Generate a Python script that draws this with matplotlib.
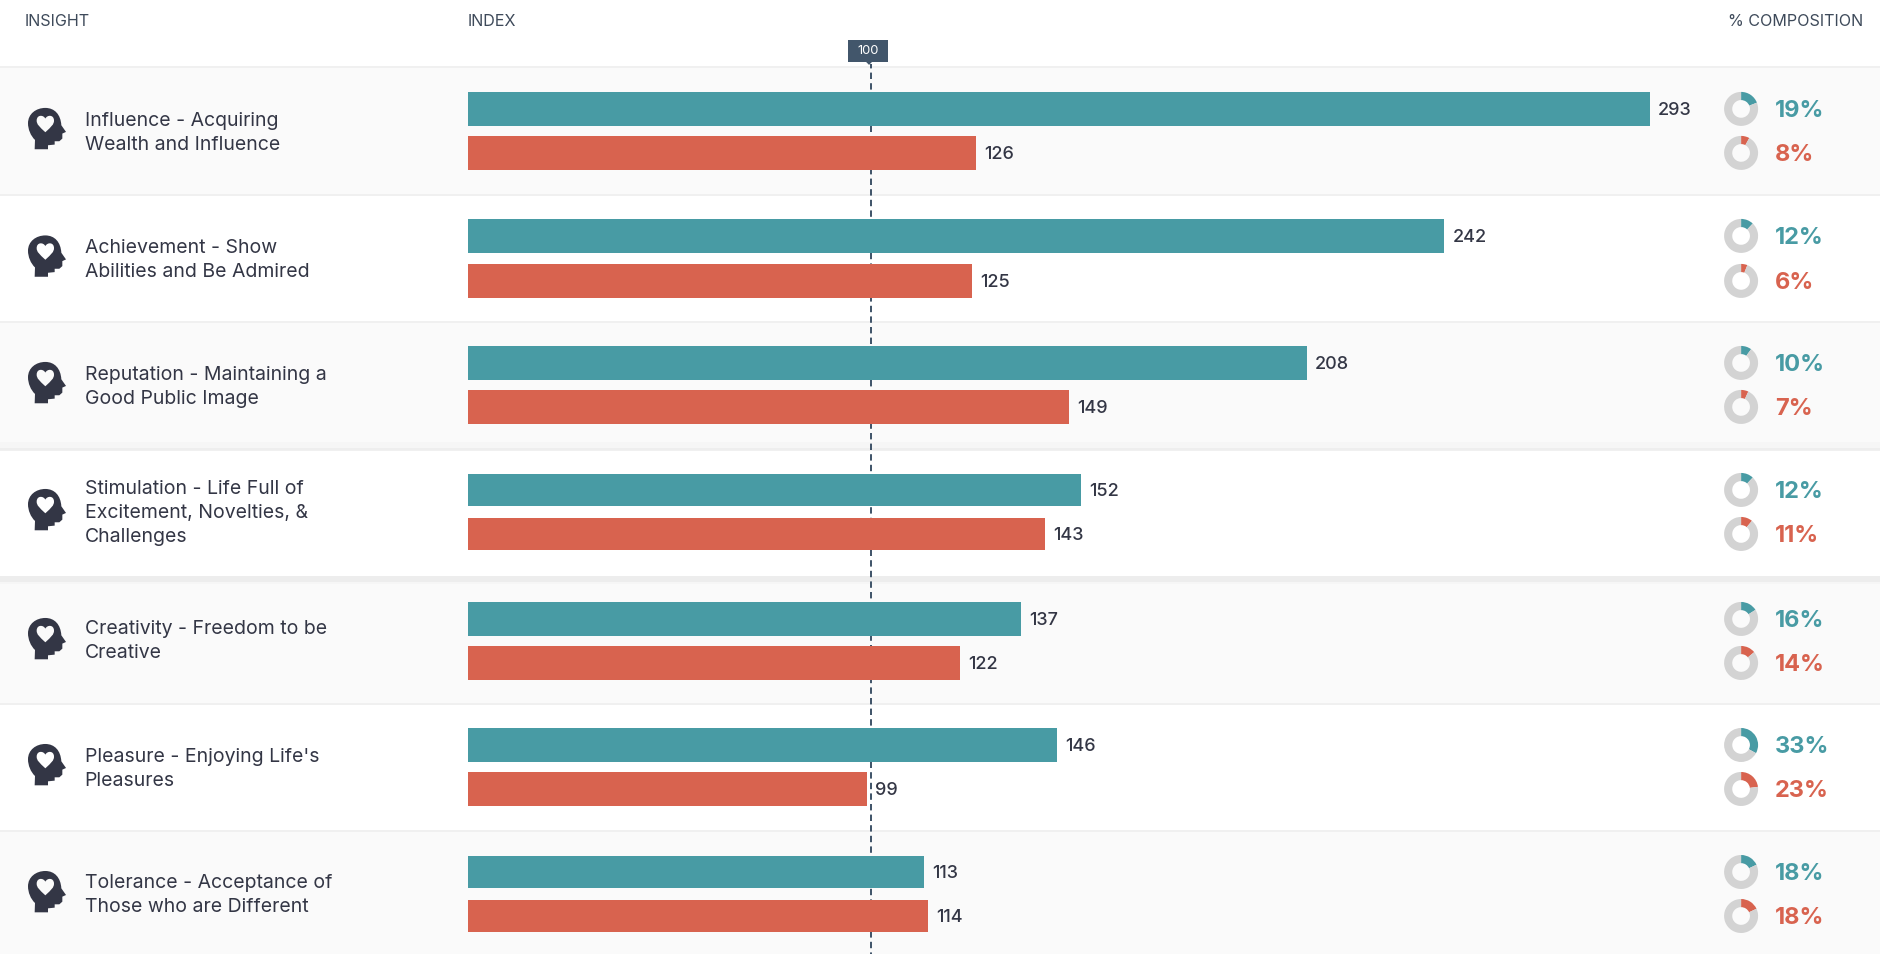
import matplotlib
matplotlib.use('Agg')
import matplotlib.pyplot as plt
from matplotlib.patches import PathPatch, Rectangle, Polygon
from matplotlib.path import Path
from matplotlib.transforms import Affine2D

plt.rcParams['font.family'] = ['Inter', 'DejaVu Sans']

# data
labels = [
    ['Influence - Acquiring', 'Wealth and Influence'],
    ['Achievement - Show', 'Abilities and Be Admired'],
    ['Reputation - Maintaining a', 'Good Public Image'],
    ['Stimulation - Life Full of', 'Excitement, Novelties, &', 'Challenges'],
    ['Creativity - Freedom to be', 'Creative'],
    ["Pleasure - Enjoying Life's", 'Pleasures'],
    ['Tolerance - Acceptance of', 'Those who are Different'],
]
index_teal = [293, 242, 208, 152, 137, 146, 113]
index_red = [126, 125, 149, 143, 122, 99, 114]
pct_teal = [19, 12, 10, 12, 16, 33, 18]
pct_red = [8, 6, 7, 11, 14, 23, 18]
reference = 100

# layout, in pixels of the 1880x954 picture
W, H = 1880, 954
PX_PER_UNIT = 4.034
BAR_X0 = 468
row_edges = [67, 195, 322, 450, 578, 704, 831, 954]
teal_spans = [(92, 126), (219, 253), (346, 380), (474, 506), (602, 636), (728, 762), (856, 888)]
red_spans = [(136, 170), (264, 298), (390, 424), (518, 550), (646, 680), (772, 806), (900, 932)]
label_centers = [132, 258.5, 385.5, 511.5, 639.5, 767.5, 893.5]

TEAL = '#489BA4'
RED = '#D8634F'
DARK = '#333645'
SLATE = '#42566B'
GREY = '#D3D3D3'

# the extra 0.1 keeps 954 from being floored to 953 on save
fig = plt.figure(figsize=((W + 0.1) / 100, (H + 0.1) / 100), dpi=100, facecolor='white')

# main axes: x is in index units, y in pixels
ax = fig.add_axes([0, 0, 1, 1])
ax.set_xlim(-BAR_X0 / PX_PER_UNIT, (W - BAR_X0) / PX_PER_UNIT)
ax.set_ylim(H, 0)
ax.axis('off')

for i in range(7):
    color = '#FAFAFA' if i % 2 == 0 else 'white'
    ax.axhspan(row_edges[i], row_edges[i + 1], color=color, lw=0, zorder=0)
    ax.axhline(row_edges[i], color='#F0F0F0', lw=1.44, zorder=1)

# the two heavier separators
ax.axhspan(442, 448, color='#F6F6F6', lw=0, zorder=1)
ax.axhspan(448, 450, color='#EEEEEE', lw=0, zorder=1)
ax.axhspan(576, 582, color='#EDEDED', lw=0, zorder=1)
ax.axhspan(582, 584, color='#F6F6F6', lw=0, zorder=1)

ax.plot([reference, reference], [64, H], color=SLATE, lw=1.44, ls=(1, (3.2, 2.1)), zorder=2)

for i in range(7):
    t0, t1 = teal_spans[i]
    r0, r1 = red_spans[i]
    ax.barh((t0 + t1) / 2, index_teal[i], height=t1 - t0, color=TEAL, zorder=3)
    ax.barh((r0 + r1) / 2, index_red[i], height=r1 - r0, color=RED, zorder=3)
    ax.text(index_teal[i] + 8 / PX_PER_UNIT, (t0 + t1) / 2 + 6, str(index_teal[i]),
            fontsize=13, color=DARK, va='baseline', fontweight='medium', zorder=4)
    ax.text(index_red[i] + 8 / PX_PER_UNIT, (r0 + r1) / 2 + 6, str(index_red[i]),
            fontsize=13, color=DARK, va='baseline', fontweight='medium', zorder=4)

# overlay in plain pixels for header, icons and row labels
ov = fig.add_axes([0, 0, 1, 1], facecolor='none')
ov.set_xlim(0, W)
ov.set_ylim(H, 0)
ov.axis('off')

ov.text(25, 26, 'INSIGHT', fontsize=11.6, color='#3E4A5A', va='baseline')
ov.text(468, 26, 'INDEX', fontsize=11.6, color='#3E4A5A', va='baseline')
ov.text(1863, 26, '% COMPOSITION', fontsize=11.6, color='#3E4A5A', va='baseline', ha='right')

# badge above the reference line
ov.add_patch(Rectangle((848, 40), 40, 22, color=SLATE, lw=0))
ov.add_patch(Polygon([(866, 62), (872, 62), (869, 65)], color=SLATE, lw=0))
ov.text(868, 51, str(reference), color='white', fontsize=9.3, ha='center', va='center')

# head with a heart cut out, drawn at 3x inside a 56px box
head_codes = [Path.MOVETO, Path.LINETO, Path.CURVE4, Path.CURVE4, Path.CURVE4,
              Path.CURVE4, Path.CURVE4, Path.CURVE4, Path.CURVE4, Path.CURVE4, Path.CURVE4,
              Path.LINETO, Path.LINETO, Path.LINETO, Path.LINETO, Path.LINETO, Path.LINETO,
              Path.LINETO, Path.LINETO, Path.LINETO, Path.CLOSEPOLY]
head_verts = [(44, 148), (45, 120), (32, 108), (24, 88), (24, 70),
              (24, 42), (48, 24), (76, 24), (104, 24), (122, 44), (124, 76),
              (138, 96), (127, 101), (127, 116), (118, 124), (104, 124), (104, 134),
              (84, 136), (84, 148), (44, 148), (44, 148)]
# runs the other way round from the head, which makes it a hole
heart_verts = [(76, 97), (94, 80), (102, 74), (102, 62), (102, 44), (82, 44), (76, 56),
               (70, 44), (50, 44), (50, 62), (50, 74), (58, 80), (76, 97), (76, 97)]
heart_codes = [Path.MOVETO] + [Path.CURVE4] * 12 + [Path.CLOSEPOLY]
icon_path = Path(head_verts + heart_verts, head_codes + heart_codes)

for i in range(7):
    center = (teal_spans[i][0] + red_spans[i][1]) / 2
    tr = Affine2D().scale(1 / 3).translate(20, center - 31) + ov.transData
    ov.add_patch(PathPatch(icon_path, facecolor=DARK, edgecolor='none', transform=tr))

    lines = labels[i]
    top = label_centers[i] - 12 * (len(lines) - 1) + 6
    for j, line in enumerate(lines):
        ov.text(84.5, top + 24 * j, line, fontsize=14, color=DARK, va='baseline')

    # composition donuts and their percents
    for span, pct, col in ((teal_spans[i], pct_teal[i], TEAL), (red_spans[i], pct_red[i], RED)):
        cy = (span[0] + span[1]) / 2
        dax = fig.add_axes([(1741 - 17) / W, 1 - (cy + 17) / H, 34 / W, 34 / H], facecolor='none')
        dax.pie([pct, 100 - pct], colors=[col, GREY], startangle=90, counterclock=False,
                radius=1, wedgeprops={'width': 0.48, 'linewidth': 0})
        dax.set_xlim(-1, 1)
        dax.set_ylim(-1, 1)
        ov.text(1775, cy + 8, f'{pct}%', fontsize=17, color=col, fontweight='bold', va='baseline')

fig.savefig('out.png', dpi=100)
